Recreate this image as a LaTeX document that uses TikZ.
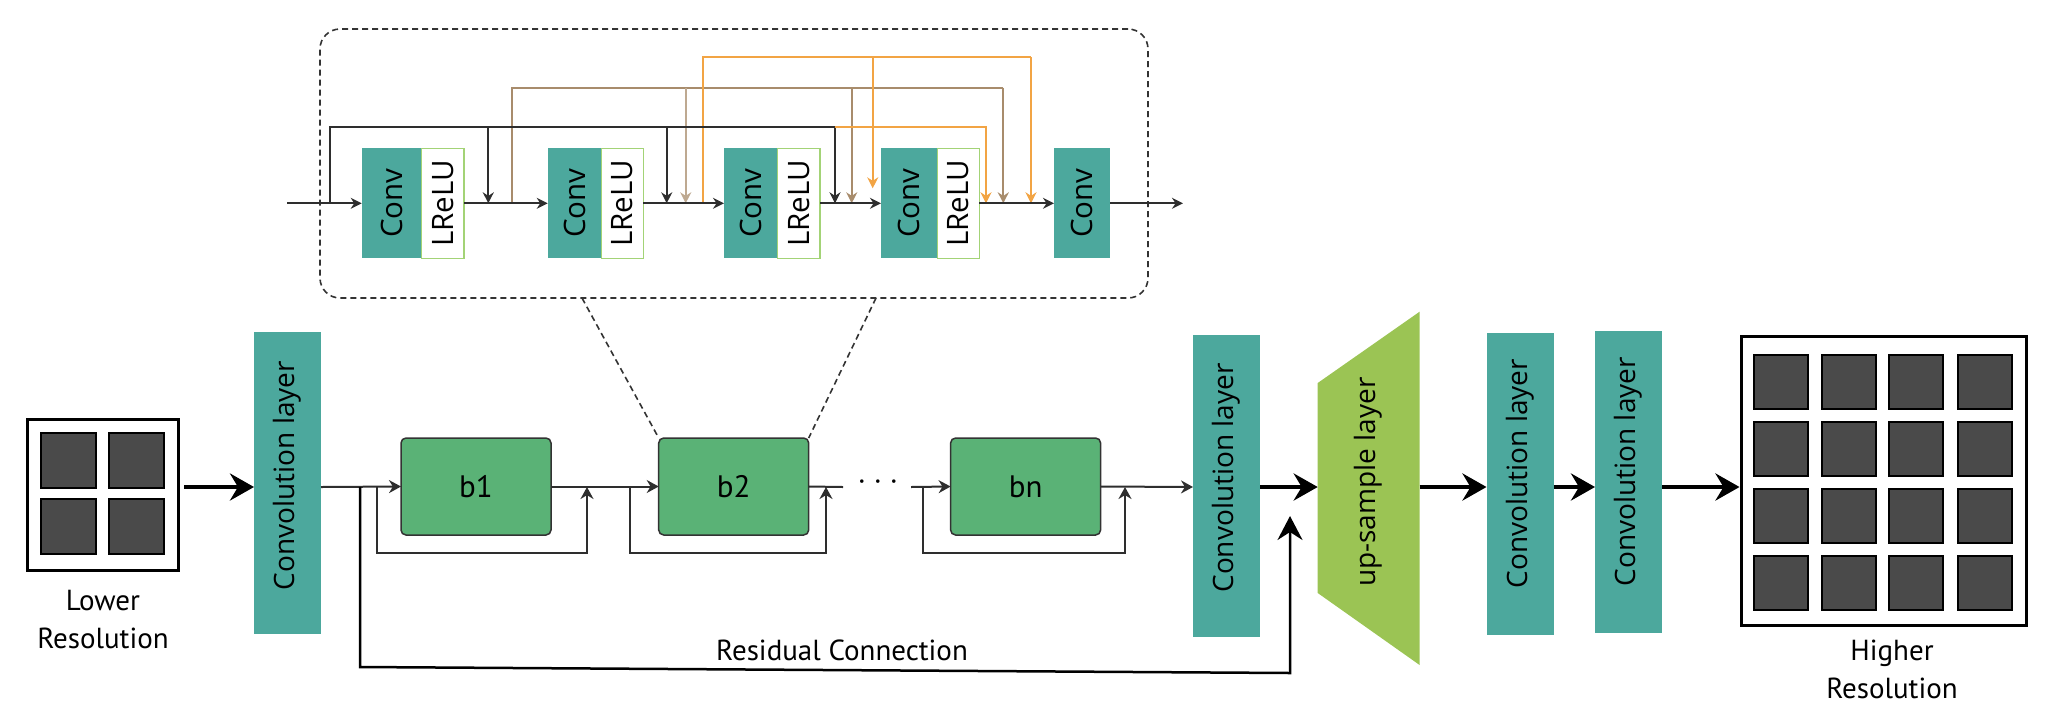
\documentclass[tikz,border=0pt]{standalone}
\usepackage{fontspec}
\newfontfamily\labfont{Open Sans}
\newfontfamily\txtfont{PT Sans}
\usetikzlibrary{arrows.meta,calc}
\definecolor{teal1}{HTML}{4CA89D}
\definecolor{bgreen}{HTML}{5AB276}
\definecolor{lgreen}{HTML}{A3D376}
\definecolor{upgreen}{HTML}{9BC454}
\definecolor{sqdark}{HTML}{4A4A4A}
\definecolor{brownl}{HTML}{A88C6C}
\definecolor{orangel}{HTML}{F2A444}
\definecolor{lineg}{HTML}{2E2E2E}
\begin{document}
\begin{tikzpicture}[x=1pt,y=-1pt,
  conv/.style={fill=teal1, minimum width=67pt, minimum height=302pt, inner sep=0pt, outer sep=0pt},
  convtxt/.style={rotate=90, font=\labfont\fontsize{28}{34}\selectfont, inner sep=0pt},
  bblock/.style={draw=black!80, line width=1.5pt, fill=bgreen, rounded corners=5pt, minimum width=150pt, minimum height=97pt, inner sep=0pt, outer sep=0pt, font=\txtfont\fontsize{31}{36}\selectfont},
  iconv/.style={fill=teal1, minimum height=110pt, inner sep=0pt, outer sep=0pt},
  irelu/.style={draw=lgreen, line width=1.5pt, fill=white, minimum height=110pt, inner sep=0pt, outer sep=0pt},
  itxt/.style={rotate=90, font=\labfont\fontsize{29.5}{34}\selectfont, inner sep=0pt},
  sq/.style={draw=black, line width=2pt, fill=sqdark, minimum size=54pt, inner sep=0pt},
  frame/.style={draw=black, line width=3pt, fill=white, inner sep=0pt},
  lbl/.style={font=\txtfont\fontsize{29}{38}\selectfont, align=center, inner sep=0pt},
  ithin/.style={draw=lineg, line width=2pt},
  iarr/.style={-{Stealth[length=11pt,width=11pt]}},
  mline/.style={draw=lineg, line width=2pt},
  marr/.style={draw=lineg, line width=2pt, -{Stealth[length=12pt,width=13pt]}},
  tarr/.style={draw=black, line width=4.5pt, -{Stealth[length=24pt,width=27pt,inset=8pt]}},
  resid/.style={draw=black, line width=2.5pt, -{Stealth[length=24pt,width=25pt,inset=8pt]}},
  dashline/.style={draw=black!80, line width=1.6pt, dash pattern=on 6pt off 4pt},
]
\useasboundingbox (0,0) rectangle (2050,716);
\def\iy{203.3}
% ---------- zoom box ----------
\node[dashline, rounded corners=20pt, minimum width=828pt, minimum height=269pt, inner sep=0pt] (zb) at (734,163.5) {};
% inner top lines
\coordinate (br0) at (511.7,\iy); \coordinate (br1) at (1003.3,87.7);
\draw[ithin, draw=brownl] (br0) |- (br1);
\foreach \x/\n/\c in {685.7/a/brownl!75,851.7/b/brownl,1003.3/c/brownl}{
  \coordinate (brd\n) at (\x,87.7); \coordinate (bre\n) at (\x,\iy);
  \draw[ithin, draw=\c, iarr] (brd\n) -- (bre\n);}
\coordinate (or0) at (703.3,\iy); \coordinate (or1) at (1031,57.3);
\draw[ithin, draw=orangel] (or0) |- (or1);
\coordinate (ord1) at (872.7,57.3); \coordinate (ore1) at (872.7,188.3);
\draw[ithin, draw=orangel, iarr] (ord1) -- (ore1);
\coordinate (ord2) at (1031,57.3); \coordinate (ore2) at (1031,\iy);
\draw[ithin, draw=orangel, iarr] (ord2) -- (ore2);
\coordinate (bk0) at (330,\iy); \coordinate (bk1) at (835,127.3);
\draw[ithin] (bk0) |- (bk1);
\foreach \x/\n in {488.3/a,666.7/b,835/c}{
  \coordinate (bkd\n) at (\x,127.3); \coordinate (bke\n) at (\x,\iy);
  \draw[ithin, iarr] (bkd\n) -- (bke\n);}
\coordinate (oq0) at (835,127.3); \coordinate (oq1) at (986,\iy);
\draw[ithin, draw=orangel, iarr] (oq0) -| (oq1);
% inner blocks
\node[iconv, minimum width=60pt] (k1) at (391.7,\iy) {};
\node[irelu, minimum width=42.3pt] (r1) at (442.85,\iy) {};
\node[iconv, minimum width=54pt] (k2) at (574.7,\iy) {};
\node[irelu, minimum width=41.6pt] (r2) at (622.5,\iy) {};
\node[iconv, minimum width=53.7pt] (k3) at (750.85,\iy) {};
\node[irelu, minimum width=42.3pt] (r3) at (798.85,\iy) {};
\node[iconv, minimum width=56.7pt] (k4) at (909.35,\iy) {};
\node[irelu, minimum width=41.6pt] (r4) at (958.5,\iy) {};
\node[iconv, minimum width=56pt] (k5) at (1082,\iy) {};
\foreach \n in {1,...,5}{\node[itxt] (k\n t) at (k\n) {Conv};}
\foreach \n in {1,...,4}{\node[itxt] (r\n t) at (r\n) {LReLU};}
\coordinate (in0) at (287,\iy); \coordinate (out0) at (1183,\iy);
\draw[ithin, iarr] (in0) -- (k1.west);
\draw[ithin, iarr] (r1.east) -- (k2.west);
\draw[ithin, iarr] (r2.east) -- (k3.west);
\draw[ithin, iarr] (r3.east) -- (k4.west);
\draw[ithin, iarr] (r4.east) -- (k5.west);
\draw[ithin, iarr] (k5.east) -- (out0);
% ---------- main row ----------
\coordinate (m) at (0,487);
\node[frame, minimum width=151pt, minimum height=151pt] (lr) at (103,494.5) {};
\node[sq, minimum size=55pt] (ls11) at (68.5,460) {};
\node[sq, minimum size=55pt] (ls12) at (136.8,460) {};
\node[sq, minimum size=55pt] (ls21) at (68.5,526) {};
\node[sq, minimum size=55pt] (ls22) at (136.8,526) {};
\node[lbl] (lrl) at (103,620) {Lower\\Resolution};
\node[conv] (c1) at (287.5,482.5) {};
\node[convtxt] (c1t) at ([yshift=7pt]c1.center) {Convolution layer};
\node[bblock] (b1) at (476,486.5) {b1};
\node[bblock] (b2) at (733.7,486.5) {b2};
\node[bblock] (bn) at (1025.6,486.5) {bn};
\node[conv] (c2) at (1226.5,486) {};
\node[convtxt] (c2t) at ([yshift=8pt]c2.center) {Convolution layer};
\fill[upgreen] (1317.7,383) -- (1419.6,311.7) -- (1419.6,665) -- (1317.7,593) -- cycle;
\coordinate (upw) at (1317.7,487); \coordinate (upe) at (1419.6,487);
\node[convtxt] (upt) at (1368,482) {up-sample layer};
\node[conv] (c3) at (1520,483.5) {};
\node[convtxt] (c3t) at ([yshift=10pt]c3.center) {Convolution layer};
\node[conv] (c4) at (1628.5,481.7) {};
\node[convtxt] (c4t) at ([yshift=10pt]c4.center) {Convolution layer};
\node[frame, minimum width=285pt, minimum height=289pt] (hr) at (1883.5,481.3) {};
\foreach \i/\xx in {1/1781,2/1848.5,3/1916,4/1984.5}{
  \foreach \j/\yy in {1/382,2/448.7,3/516.3,4/582.8}{
    \node[sq] (hs\i\j) at (\xx,\yy) {};}}
\node[lbl] (hrl) at (1892,669) {Higher\\Resolution};
% dashed connectors
\coordinate (zl) at (582,298); \coordinate (zr) at (876,298);
\draw[dashline] (zl) -- (b2.north west);
\draw[dashline] (zr) -- (b2.north east);
% arrows
\draw[tarr, shorten <=4pt] (lr.east |- m) -- (c1.west |- m);
\draw[marr] (c1.east |- m) -- (b1.west);
\coordinate (s1a) at (377,487); \coordinate (s1b) at (587,487);
\draw[marr] (s1a) -- ++(0,66) -| (s1b);
\draw[marr] (b1.east) -- (b2.west);
\coordinate (s2a) at (630,487); \coordinate (s2b) at (826,487);
\draw[marr] (s2a) -- ++(0,66) -| (s2b);
\coordinate (d1) at (843,487);
\draw[mline] (b2.east) -- (d1);
\node[font=\txtfont\fontsize{30}{36}\selectfont, inner sep=0pt] (dots) at (878,485) {· · ·};
\coordinate (d2) at (911,487);
\draw[marr] (d2) -- (bn.west);
\coordinate (s3a) at (923,487); \coordinate (s3b) at (1125,487);
\draw[marr] (s3a) -- ++(0,66) -| (s3b);
\draw[marr] (bn.east) -- (c2.west |- m);
\draw[tarr] (c2.east |- m) -- (upw);
\draw[tarr] (upe) -- (c3.west |- m);
\draw[tarr] (c3.east |- m) -- (c4.west |- m);
\draw[tarr] (c4.east |- m) -- (hr.west |- m);
% residual
\coordinate (rb) at (360,487); \coordinate (rc1) at (360,667);
\coordinate (rc2) at (1290,673); \coordinate (rt) at (1290,516);
\draw[resid] (rb) -- (rc1) -- (rc2) -- (rt);
\node[lbl] (resl) at (842,650) {Residual Connection};
\end{tikzpicture}
\end{document}
